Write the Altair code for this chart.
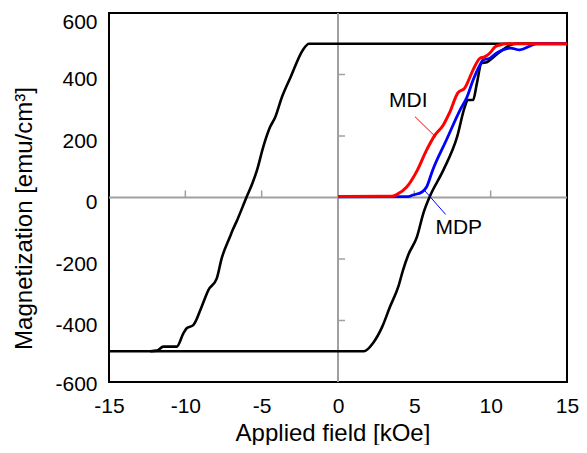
import altair as alt
import pandas as pd

# Black hysteresis loop: descending branch (field swept from +15 to -15)
desc_h = [15, -1.9, -2.3, -3.1, -3.67, -4.13, -4.45, -4.9, -5.3, -5.6, -6.0, -6.6, -6.9,
          -7.07, -7.62, -7.94, -8.49, -8.93, -9.48, -9.91, -10.13, -10.56, -11.44, -11.87, -12.3]
desc_m = [500, 500, 480, 392, 327, 259, 229, 164, 90, 47, 0, -73, -106,
          -127, -198, -263, -301, -355, -415, -425, -442, -485, -485, -498, -500]
# ascending branch (field swept from -15 to +15)
asc_h = [-15, 1.7, 2.3, 2.9, 3.4, 3.95, 4.26, 4.6, 5.17, 5.6, 6.0, 6.9, 7.8, 8.3, 8.5,
         8.85, 9.1, 9.4, 9.75, 10.2, 10.6, 11.3, 11.7, 15]
asc_m = [-500, -500, -473, -420, -356, -290, -236, -187, -128, -50, 2, 89, 197, 294, 317,
         317, 372, 437, 440, 457, 473, 496, 500, 500]
# MDP (blue) initial curve
mdp_h = [0, 4.6, 4.9, 5.5, 5.8, 6.2, 7.1, 8.0, 8.45, 8.85, 9.3, 9.5, 9.95, 10.4, 10.8,
         11.3, 11.9, 12.6, 13.0, 15]
mdp_m = [2, 3, 8, 18, 34, 89, 187, 285, 327, 382, 431, 447, 453, 470, 480,
         486, 480, 493, 500, 500]
# MDI (red) initial curve
mdi_h = [0, 3.5, 3.86, 4.5, 5.2, 5.8, 6.35, 6.9, 7.3, 7.85, 8.3, 8.85, 9.3, 9.6, 9.95,
         10.3, 10.6, 11.0, 15]
mdi_m = [3, 4, 10, 34, 89, 154, 203, 236, 275, 340, 356, 415, 453, 457, 470,
         490, 496, 500, 500]

x_ticks = [-15, -10, -5, 0, 5, 10, 15]
y_ticks = [-600, -400, -200, 0, 200, 400, 600]
inner_x_ticks = [-10, -5, 5, 10]
inner_y_ticks = [-400, -200, 200, 400]

rows = []
for h, m in zip(desc_h, desc_m):
    rows.append({"H": h, "M": m, "s": "loop", "b": "desc"})
for h, m in zip(asc_h, asc_m):
    rows.append({"H": h, "M": m, "s": "loop", "b": "asc"})
for h, m in zip(mdp_h, mdp_m):
    rows.append({"H": h, "M": m, "s": "MDP", "b": "mdp"})
for h, m in zip(mdi_h, mdi_m):
    rows.append({"H": h, "M": m, "s": "MDI", "b": "mdi"})
df = pd.DataFrame(rows)

xs = alt.Scale(domain=[-15, 15], nice=False, zero=False)
ys = alt.Scale(domain=[-600, 600], nice=False, zero=False)
xaxis = alt.Axis(values=x_ticks, title="Applied field [kOe]", labelPadding=13, labelFlush=False,
                 labelExpr="toString(datum.value)",
                 titleX=223.5, titleY=58, titleBaseline="alphabetic", titleAlign="center")
yaxis = alt.Axis(values=y_ticks, title="Magnetization [emu/cm³]", labelPadding=12,
                 labelOffset={"condition": [{"test": "datum.value >= 600", "value": 9},
                                            {"test": "datum.value <= -600", "value": 2}],
                              "value": 5},
                 labelFlush=False, labelBaseline="middle", labelExpr="toString(datum.value)",
                 titleX=-78, titleY=205, titleBaseline="alphabetic", titleAlign="center", titleAngle=270)

def X(f="H"):
    return alt.X(f"{f}:Q", scale=xs, axis=xaxis)

def Y(f="M"):
    return alt.Y(f"{f}:Q", scale=ys, axis=yaxis)

gray = "#a0a0a0"
zero_v = pd.DataFrame({"H": [0], "M": [-600], "M2": [600]})
zero_h = pd.DataFrame({"H": [-15], "H2": [15], "M": [0]})
tick_x = pd.DataFrame({"H": inner_x_ticks, "M": [0] * 4, "M2": [23] * 4})
tick_y = pd.DataFrame({"H": [0] * 4, "H2": [0.46] * 4, "M": inner_y_ticks})

l_zv = alt.Chart(zero_v).mark_rule(color=gray, strokeWidth=2).encode(x=X(), y=Y(), y2="M2:Q")
l_zh = alt.Chart(zero_h).mark_rule(color=gray, strokeWidth=2).encode(x=X(), x2="H2:Q", y=Y())
l_tx = alt.Chart(tick_x).mark_rule(color=gray, strokeWidth=1.5).encode(x=X(), y=Y(), y2="M2:Q")
l_ty = alt.Chart(tick_y).mark_rule(color=gray, strokeWidth=1.5).encode(x=X(), x2="H2:Q", y=Y())

color = alt.Color("s:N", scale=alt.Scale(domain=["loop", "MDP", "MDI"],
                                         range=["#000000", "#0000ff", "#ff0000"]), legend=None)

l_loop = alt.Chart(df[df.s == "loop"]).mark_line(strokeWidth=2.6, interpolate="monotone").encode(
    x=X(), y=Y(), color=color, detail="b:N")
l_mdp = alt.Chart(df[df.s == "MDP"]).mark_line(strokeWidth=2.8, interpolate="monotone").encode(
    x=X(), y=Y(), color=color)
l_mdi = alt.Chart(df[df.s == "MDI"]).mark_line(strokeWidth=3, interpolate="monotone").encode(
    x=X(), y=Y(), color=color)

lead_mdi = pd.DataFrame({"H": [5.04], "M": [263], "H2": [6.42], "M2": [196]})
lead_mdp = pd.DataFrame({"H": [5.65], "M": [24], "H2": [7.05], "M2": [-55]})
l_lead1 = alt.Chart(lead_mdi).mark_rule(color="#ff0000", strokeWidth=1).encode(
    x=X(), y=Y(), x2="H2:Q", y2="M2:Q")
l_lead2 = alt.Chart(lead_mdp).mark_rule(color="#0000ff", strokeWidth=1).encode(
    x=X(), y=Y(), x2="H2:Q", y2="M2:Q")

labels = pd.DataFrame({"H": [4.6, 7.91], "M": [314, -99], "t": ["MDI", "MDP"]})
l_text = alt.Chart(labels).mark_text(fontSize=21, font="Liberation Sans", color="#000000",
                                     baseline="middle", align="center").encode(
    x=X(), y=Y(), text="t:N")

chart = alt.layer(l_zv, l_zh, l_tx, l_ty, l_loop, l_mdp, l_mdi, l_lead1, l_lead2, l_text).properties(
    width=458, height=369,
    autosize=alt.AutoSizeParams(type="none"),
    padding={"left": 101, "top": 5, "right": 12, "bottom": 63},
).configure_view(stroke="#000000", strokeWidth=2).configure_axis(
    grid=False, domain=False, ticks=False, tickSize=0,
    labelFont="Liberation Sans", labelFontSize=21, labelColor="#000000",
    titleFont="Liberation Sans", titleFontSize=24, titleFontWeight="normal", titleColor="#000000",
)

chart.save("out.html", embed_options={"renderer": "svg", "actions": False})
